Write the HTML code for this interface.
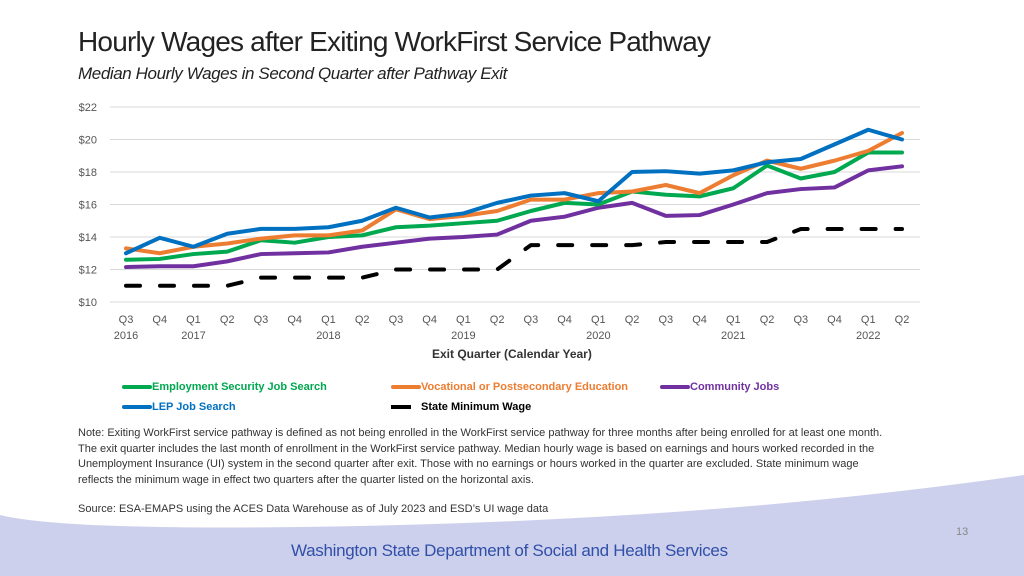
<!DOCTYPE html>
<html><head><meta charset="utf-8"><style>
body{margin:0;width:1024px;height:576px;overflow:hidden;background:#fff;font-family:"Liberation Sans",sans-serif;position:relative}
.abs{position:absolute;white-space:nowrap}
</style></head><body>
<svg class="abs" style="left:0;top:0" width="1024" height="576">
<path d="M0 515 Q60 530 300 527 Q700 522 1024 475 L1024 576 L0 576 Z" fill="#cdd0ec"/>
</svg>
<div class="abs" style="left:78px;top:26px;font-size:28px;color:#222;letter-spacing:-0.8px">Hourly Wages after Exiting WorkFirst Service Pathway</div>
<div class="abs" style="left:78px;top:64px;font-size:17px;font-style:italic;color:#222;letter-spacing:-0.4px">Median Hourly Wages in Second Quarter after Pathway Exit</div>
<svg id="chart" class="abs" style="left:0;top:0" width="1024" height="380"></svg>
<div class="abs" style="left:432px;top:347px;font-size:12px;font-weight:bold;color:#333">Exit Quarter (Calendar Year)</div>
<div class="abs" style="left:0;top:378px;font-size:11px;font-weight:bold">
<div class="abs" style="left:122px;top:3px"><span style="display:inline-block;width:30px;height:4px;background:#00a84f;vertical-align:middle;border-radius:2px"></span><span style="color:#00a84f">Employment Security Job Search</span></div>
<div class="abs" style="left:391px;top:3px"><span style="display:inline-block;width:30px;height:4px;background:#ed7d31;vertical-align:middle;border-radius:2px"></span><span style="color:#ed7d31">Vocational or Postsecondary Education</span></div>
<div class="abs" style="left:660px;top:3px"><span style="display:inline-block;width:30px;height:4px;background:#7030a0;vertical-align:middle;border-radius:2px"></span><span style="color:#7030a0">Community Jobs</span></div>
<div class="abs" style="left:122px;top:23px"><span style="display:inline-block;width:30px;height:4px;background:#0070c0;vertical-align:middle;border-radius:2px"></span><span style="color:#0070c0">LEP Job Search</span></div>
<div class="abs" style="left:391px;top:23px"><span style="display:inline-block;width:20px;height:4px;background:#000;vertical-align:middle;margin-right:10px"></span><span style="color:#000">State Minimum Wage</span></div>
</div>
<div class="abs" style="left:78px;top:426px;font-size:11px;line-height:15.5px;color:#333;white-space:normal;width:810px">Note: Exiting WorkFirst service pathway is defined as not being enrolled in the WorkFirst service pathway for three months after being enrolled for at least one month. The exit quarter includes the last month of enrollment in the WorkFirst service pathway. Median hourly wage is based on earnings and hours worked recorded in the Unemployment Insurance (UI) system in the second quarter after exit. Those with no earnings or hours worked in the quarter are excluded. State minimum wage reflects the minimum wage in effect two quarters after the quarter listed on the horizontal axis.</div>
<div class="abs" style="left:78px;top:503px;font-size:11px;color:#333">Source: ESA-EMAPS using the ACES Data Warehouse as of July 2023 and ESD’s UI wage data</div>
<div class="abs" style="left:956px;top:526px;font-size:11px;color:#888">13</div>
<div class="abs" style="left:291px;top:541px;font-size:17px;color:#2f4fa8;letter-spacing:-0.3px">Washington State Department of Social and Health Services</div>
<script>
const quarters=["Q3","Q4","Q1","Q2","Q3","Q4","Q1","Q2","Q3","Q4","Q1","Q2","Q3","Q4","Q1","Q2","Q3","Q4","Q1","Q2","Q3","Q4","Q1","Q2"];
const years=["2016","","2017","","","","2018","","","","2019","","","","2020","","","","2021","","","","2022",""];
const yTicks=[10,12,14,16,18,20,22];
const esd=[12.6,12.65,12.95,13.1,13.8,13.65,14.0,14.1,14.6,14.7,14.85,15.0,15.6,16.1,16.0,16.8,16.6,16.5,17.0,18.4,17.6,18.0,19.2,19.2];
const voc=[13.3,13.0,13.4,13.6,13.9,14.1,14.1,14.4,15.7,15.1,15.3,15.6,16.3,16.3,16.7,16.8,17.2,16.7,17.8,18.7,18.2,18.7,19.3,20.4];
const lep=[13.0,13.95,13.4,14.2,14.5,14.5,14.6,15.0,15.8,15.2,15.45,16.1,16.55,16.7,16.2,18.0,18.05,17.9,18.1,18.6,18.8,19.7,20.6,20.0];
const community=[12.15,12.2,12.2,12.5,12.95,13.0,13.05,13.4,13.65,13.9,14.0,14.15,15.0,15.25,15.8,16.1,15.3,15.35,16.0,16.7,16.95,17.05,18.1,18.35];
const minWage=[11,11,11,11,11.5,11.5,11.5,11.5,12,12,12,12,13.5,13.5,13.5,13.5,13.69,13.69,13.69,13.69,14.49,14.49,14.49,14.49];
const svg=document.getElementById('chart');const NS='http://www.w3.org/2000/svg';
const x=i=>126+i*(902-126)/(quarters.length-1);
const y=v=>302-(v-10)*(302-107)/12;
function mk(t,a){const e=document.createElementNS(NS,t);for(const k in a)e.setAttribute(k,a[k]);svg.appendChild(e);return e;}
yTicks.forEach(v=>{
const g=mk('line',{x1:110,x2:920,y1:y(v),y2:y(v),stroke:'#d9d9d9','stroke-width':1});


const t=mk('text',{x:97,y:y(v)+4,'text-anchor':'end','font-size':11,fill:'#555','font-family':'Liberation Sans'});t.textContent='$'+v;


});
quarters.forEach((q,i)=>{
const t=mk('text',{x:x(i),y:323,'text-anchor':'middle','font-size':11,fill:'#555','font-family':'Liberation Sans'});t.textContent=q;


if(years[i]){const u=mk('text',{x:x(i),y:339,'text-anchor':'middle','font-size':11,fill:'#555','font-family':'Liberation Sans'});u.textContent=years[i];

}
});
function line(d,c,name,dash){
const p=mk('polyline',{points:d.map((v,i)=>x(i)+','+y(v)).join(' '),fill:'none',stroke:c,'stroke-width':4,'stroke-linejoin':'round','stroke-linecap':dash?'round':'round'});
if(dash)p.setAttribute('stroke-dasharray','14 20');


}
line(minWage,'#000','series-min-wage',true);
line(community,'#7030a0','series-community-jobs');
line(esd,'#00a84f','series-esd-job-search');
line(voc,'#ed7d31','series-vocational');
line(lep,'#0070c0','series-lep-job-search');
</script>
</body></html>
